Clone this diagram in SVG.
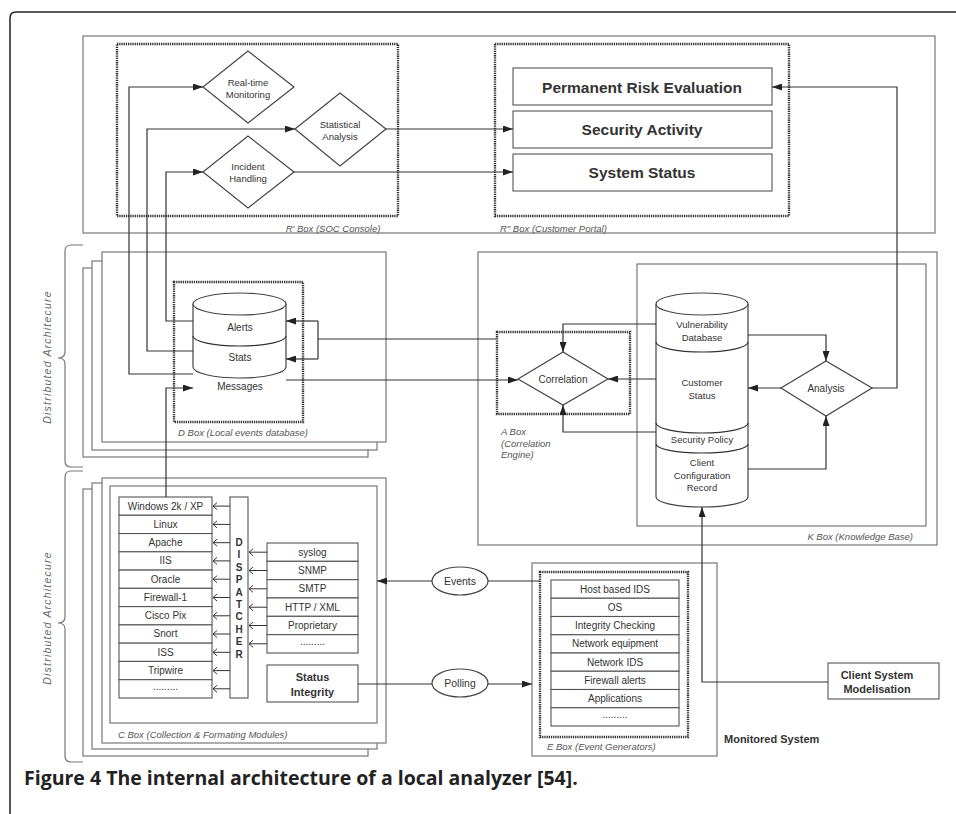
<svg xmlns="http://www.w3.org/2000/svg" width="956" height="814" viewBox="0 0 956 814">
  <defs>
    <marker id="arr" viewBox="0 0 10 7" refX="10" refY="3.5" markerWidth="10" markerHeight="7" markerUnits="userSpaceOnUse" orient="auto">
      <path d="M0,0 L10,3.5 L0,7 Z" fill="#222"/>
    </marker>
    <marker id="chev" viewBox="0 0 6 8" refX="1" refY="4" markerWidth="6" markerHeight="8" markerUnits="userSpaceOnUse" orient="auto">
      <path d="M5,0.5 L1,4 L5,7.5" fill="none" stroke="#333" stroke-width="1"/>
    </marker>
  </defs>
  <style>
    .frame { fill: none; stroke: #222; stroke-width: 1.5; }
    .box { fill: none; stroke: #777; stroke-width: 1.2; }
    .wbox { fill: #fff; stroke: #777; stroke-width: 1.2; }
    .cell { fill: #fff; stroke: #555; stroke-width: 1.1; }
    .dot { fill: none; stroke: #333; stroke-width: 2.4; stroke-dasharray: 1.3 0.9; }
    .shape { fill: #fff; stroke: #444; stroke-width: 1.2; }
    .ln { fill: none; stroke: #333; stroke-width: 1.2; }
    .la { fill: none; stroke: #333; stroke-width: 1.2; marker-end: url(#arr); }
    .lc { fill: none; stroke: #333; stroke-width: 1; marker-start: url(#chev); }
    .t { font-family: "Liberation Sans", Arial, sans-serif; font-size: 9.5px; fill: #333; text-anchor: middle; }
    .s { font-family: "Liberation Sans", Arial, sans-serif; font-size: 10px; fill: #333; text-anchor: middle; }
    .b { font-family: "Liberation Sans", Arial, sans-serif; font-size: 11px; font-weight: bold; fill: #333; text-anchor: middle; }
    .disp { font-family: "Liberation Sans", Arial, sans-serif; font-size: 10px; font-weight: bold; fill: #333; text-anchor: middle; }
    .ell { font-family: "Liberation Sans", Arial, sans-serif; font-size: 10.5px; fill: #333; text-anchor: middle; }
    .big { font-family: "Liberation Sans", Arial, sans-serif; font-size: 15.5px; font-weight: bold; fill: #333; text-anchor: middle; }
    .lbl { font-family: "Liberation Sans", Arial, sans-serif; font-size: 9.5px; font-style: italic; fill: #555; }
    .da { font-family: "Liberation Sans", Arial, sans-serif; font-size: 10.5px; font-style: italic; fill: #666; letter-spacing: 1.2px; text-anchor: middle; }
    .cap { font-family: "Open Sans", "Noto Sans", sans-serif; font-size: 19.5px; font-weight: bold; fill: #222; }
  </style>

  <rect width="956" height="814" fill="#fff"/>
  <path class="frame" d="M10,814 V18 Q10,12 16,12 H956"/>

  <!-- brackets for the distributed tiers -->
  <g id="braces">
    <path class="box" d="M83,245 H71 Q65,245 65,251 V352 Q65,358 58,358 Q65,358 65,364 V461 Q65,467 71,467 H83"/>
    <path class="box" d="M83,471 H71 Q65,471 65,477 V617 Q65,623 58,623 Q65,623 65,629 V756 Q65,762 71,762 H83"/>
    <text class="da" transform="translate(50.5,357) rotate(-90)">Distributed  Architecure</text>
    <text class="da" transform="translate(50.5,618) rotate(-90)">Distributed  Architecure</text>
  </g>

  <!-- R box: SOC console and customer portal -->
  <g id="r-box">
    <rect class="box" x="83" y="36" width="852" height="197"/>
  </g>
  <g id="r1-box">
    <rect class="dot" x="117" y="44" width="281" height="172"/>
    <text class="lbl" x="333" y="232" text-anchor="middle">R' Box (SOC Console)</text>
  </g>
  <g id="realtime">
    <polygon class="shape" points="203,87 248,51 294,87 248,123"/>
    <text class="t" x="248" y="85.5">Real-time</text>
    <text class="t" x="248" y="97.5">Monitoring</text>
  </g>
  <g id="statistical">
    <polygon class="shape" points="295,129 340,93 386,129 340,166"/>
    <text class="t" x="340" y="127.5">Statistical</text>
    <text class="t" x="340" y="139.5">Analysis</text>
  </g>
  <g id="incident">
    <polygon class="shape" points="203,172 248,136 294,172 248,208"/>
    <text class="t" x="248" y="169.5">Incident</text>
    <text class="t" x="248" y="181.5">Handling</text>
  </g>
  <g id="r2-box">
    <rect class="dot" x="495" y="44" width="294" height="172"/>
    <text class="lbl" x="500" y="232">R" Box (Customer Portal)</text>
  </g>
  <g id="risk">
    <rect class="cell" x="513" y="68" width="259" height="37"/>
    <text class="big" x="642" y="92.5">Permanent Risk Evaluation</text>
  </g>
  <g id="activity">
    <rect class="cell" x="513" y="111" width="259" height="37"/>
    <text class="big" x="642" y="135">Security Activity</text>
  </g>
  <g id="status">
    <rect class="cell" x="513" y="154" width="259" height="37"/>
    <text class="big" x="642" y="178">System Status</text>
  </g>

  <!-- D box: local events database (stacked instances) -->
  <g id="d-box">
    <rect class="wbox" x="83" y="268" width="285" height="189"/>
    <rect class="wbox" x="92" y="261" width="285" height="189"/>
    <rect class="wbox" x="102" y="252" width="284" height="190"/>
    <rect class="dot" x="174" y="282" width="129" height="140"/>
    <text class="lbl" x="243" y="436" text-anchor="middle">D Box (Local events database)</text>
  </g>
  <g id="d-db">
    <path class="shape" d="M193,304 V367 A46.5,11 0 0 0 286,367 V304"/>
    <ellipse class="shape" cx="239.5" cy="304" rx="46.5" ry="11"/>
    <path class="ln" d="M193,336 A46.5,10 0 0 0 286,336"/>
    <text class="s" x="240" y="330.5">Alerts</text>
    <text class="s" x="240" y="360.5">Stats</text>
    <text class="s" x="240" y="389.5">Messages</text>
  </g>

  <!-- K box: knowledge base -->
  <g id="k-box">
    <rect class="box" x="478" y="252" width="459" height="293"/>
    <rect class="box" x="637" y="264" width="289" height="262"/>
    <text class="lbl" x="913" y="540" text-anchor="end">K Box (Knowledge Base)</text>
  </g>
  <g id="a-box">
    <rect class="dot" x="497" y="332" width="133" height="82"/>
    <text class="lbl" x="501" y="435">A Box</text>
    <text class="lbl" x="501" y="447">(Correlation</text>
    <text class="lbl" x="501" y="458">Engine)</text>
  </g>
  <g id="correlation">
    <polygon class="shape" points="518,379 563,352 608,379 563,405"/>
    <text class="s" x="563" y="382.5">Correlation</text>
  </g>
  <g id="k-db">
    <path class="shape" d="M656,304 V497 A46,10 0 0 0 748,497 V304"/>
    <ellipse class="shape" cx="702" cy="304" rx="46" ry="11"/>
    <path class="ln" d="M656,342 A46,10 0 0 0 748,342"/>
    <path class="ln" d="M656,423 A46,10 0 0 0 748,423"/>
    <path class="ln" d="M656,444 A46,9 0 0 0 748,444"/>
    <text class="t" x="702" y="327.5">Vulnerability</text>
    <text class="t" x="702" y="340.5">Database</text>
    <text class="t" x="702" y="385.5">Customer</text>
    <text class="t" x="702" y="398.5">Status</text>
    <text class="t" x="702" y="443">Security Policy</text>
    <text class="t" x="702" y="466">Client</text>
    <text class="t" x="702" y="478.5">Configuration</text>
    <text class="t" x="702" y="490.5">Record</text>
  </g>
  <g id="analysis">
    <polygon class="shape" points="781,388 826,361 872,388 826,416"/>
    <text class="s" x="826" y="391.5">Analysis</text>
  </g>

  <!-- C box: collection and formatting modules (stacked instances) -->
  <g id="c-box">
    <rect class="wbox" x="83" y="489" width="285" height="267"/>
    <rect class="wbox" x="92" y="483" width="285" height="266"/>
    <rect class="wbox" x="102" y="478" width="284" height="265"/>
    <rect class="box" x="110" y="486" width="267" height="237"/>
    <text class="lbl" x="118" y="738">C Box (Collection &amp; Formating Modules)</text>
  </g>
  <g id="parsers">
    <rect class="cell" x="119" y="497" width="93" height="18.27"/>
    <rect class="cell" x="119" y="515.27" width="93" height="18.27"/>
    <rect class="cell" x="119" y="533.54" width="93" height="18.27"/>
    <rect class="cell" x="119" y="551.81" width="93" height="18.27"/>
    <rect class="cell" x="119" y="570.08" width="93" height="18.27"/>
    <rect class="cell" x="119" y="588.35" width="93" height="18.27"/>
    <rect class="cell" x="119" y="606.62" width="93" height="18.27"/>
    <rect class="cell" x="119" y="624.89" width="93" height="18.27"/>
    <rect class="cell" x="119" y="643.16" width="93" height="18.27"/>
    <rect class="cell" x="119" y="661.43" width="93" height="18.27"/>
    <rect class="cell" x="119" y="679.7" width="93" height="18.3"/>
    <text class="s" x="165.5" y="509.5">Windows 2k / XP</text>
    <text class="s" x="165.5" y="527.8">Linux</text>
    <text class="s" x="165.5" y="546">Apache</text>
    <text class="s" x="165.5" y="564.3">IIS</text>
    <text class="s" x="165.5" y="582.6">Oracle</text>
    <text class="s" x="165.5" y="600.9">Firewall-1</text>
    <text class="s" x="165.5" y="619.2">Cisco Pix</text>
    <text class="s" x="165.5" y="637.4">Snort</text>
    <text class="s" x="165.5" y="655.7">ISS</text>
    <text class="s" x="165.5" y="674">Tripwire</text>
    <text class="s" x="165.5" y="690">.........</text>
  </g>
  <g id="dispatcher">
    <rect class="cell" x="230" y="497" width="18" height="201"/>
    <text class="disp" x="239" y="546">D</text>
    <text class="disp" x="239" y="558.4">I</text>
    <text class="disp" x="239" y="570.8">S</text>
    <text class="disp" x="239" y="583.2">P</text>
    <text class="disp" x="239" y="595.6">A</text>
    <text class="disp" x="239" y="608">T</text>
    <text class="disp" x="239" y="620.4">C</text>
    <text class="disp" x="239" y="632.8">H</text>
    <text class="disp" x="239" y="645.2">E</text>
    <text class="disp" x="239" y="657.6">R</text>
  </g>
  <g id="inputs">
    <rect class="cell" x="267" y="543" width="91" height="18.33"/>
    <rect class="cell" x="267" y="561.33" width="91" height="18.33"/>
    <rect class="cell" x="267" y="579.66" width="91" height="18.33"/>
    <rect class="cell" x="267" y="597.99" width="91" height="18.33"/>
    <rect class="cell" x="267" y="616.32" width="91" height="18.33"/>
    <rect class="cell" x="267" y="634.65" width="91" height="18.35"/>
    <text class="s" x="312.5" y="555.7">syslog</text>
    <text class="s" x="312.5" y="574">SNMP</text>
    <text class="s" x="312.5" y="592.3">SMTP</text>
    <text class="s" x="312.5" y="610.7">HTTP / XML</text>
    <text class="s" x="312.5" y="629">Proprietary</text>
    <text class="s" x="312.5" y="645">.........</text>
  </g>
  <g id="status-integrity">
    <rect class="cell" x="267" y="665" width="91" height="37"/>
    <text class="b" x="312.5" y="681">Status</text>
    <text class="b" x="312.5" y="696">Integrity</text>
  </g>

  <g id="events">
    <ellipse class="shape" cx="460" cy="581" rx="28" ry="14"/>
    <text class="ell" x="460" y="585">Events</text>
  </g>
  <g id="polling">
    <ellipse class="shape" cx="460" cy="683" rx="28" ry="14"/>
    <text class="ell" x="460" y="687">Polling</text>
  </g>

  <!-- E box: event generators of the monitored system -->
  <g id="e-box">
    <rect class="box" x="532" y="563" width="185" height="193"/>
    <rect class="dot" x="540" y="572" width="148" height="165"/>
    <text class="lbl" x="547" y="750">E Box (Event Generators)</text>
  </g>
  <g id="generators">
    <rect class="cell" x="551" y="580" width="128" height="18.25"/>
    <rect class="cell" x="551" y="598.25" width="128" height="18.25"/>
    <rect class="cell" x="551" y="616.5" width="128" height="18.25"/>
    <rect class="cell" x="551" y="634.75" width="128" height="18.25"/>
    <rect class="cell" x="551" y="653" width="128" height="18.25"/>
    <rect class="cell" x="551" y="671.25" width="128" height="18.25"/>
    <rect class="cell" x="551" y="689.5" width="128" height="18.25"/>
    <rect class="cell" x="551" y="707.75" width="128" height="18.25"/>
    <text class="s" x="615" y="592.5">Host based IDS</text>
    <text class="s" x="615" y="610.7">OS</text>
    <text class="s" x="615" y="629">Integrity Checking</text>
    <text class="s" x="615" y="647.2">Network equipment</text>
    <text class="s" x="615" y="665.5">Network  IDS</text>
    <text class="s" x="615" y="683.7">Firewall alerts</text>
    <text class="s" x="615" y="702">Applications</text>
    <text class="s" x="615" y="718">.........</text>
  </g>
  <g id="monitored">
    <text class="b" x="724" y="743" style="text-anchor:start">Monitored System</text>
  </g>
  <g id="client-model">
    <rect class="cell" x="828" y="663" width="111" height="36"/>
    <text class="b" x="877" y="679">Client  System</text>
    <text class="b" x="877" y="693">Modelisation</text>
  </g>

  <!-- connectors -->
  <g id="connectors">
    <path class="la" d="M193,374 H129 V87 H203"/>
    <path class="la" d="M193,351 H147 V129 H295"/>
    <path class="la" d="M193,321 H166 V172 H203"/>
    <path class="la" d="M386,129 H513"/>
    <path class="la" d="M294,172 H513"/>
    <path class="la" d="M872,388 H897 V87 H772"/>
    <path class="ln" d="M496,339 H318 M318,321 V359"/>
    <path class="la" d="M318,321 H286"/>
    <path class="la" d="M318,359 H286"/>
    <path class="la" d="M286,380 H518"/>
    <path class="la" d="M166,497 V388 H193"/>
    <path class="la" d="M656,324 H563 V352"/>
    <path class="la" d="M656,379 H608"/>
    <path class="la" d="M656,432 H563 V405"/>
    <path class="la" d="M748,335 H826 V361"/>
    <path class="la" d="M781,388 H748"/>
    <path class="la" d="M748,469 H826 V416"/>
    <path class="la" d="M828,682 H702 V507"/>
    <path class="ln" d="M540,581 H488"/>
    <path class="la" d="M432,581 H377"/>
    <path class="ln" d="M358,684 H432"/>
    <path class="la" d="M488,684 H532"/>
    <!-- dispatcher to parsers -->
    <path class="lc" d="M213,506.1 H230"/>
    <path class="lc" d="M213,524.4 H230"/>
    <path class="lc" d="M213,542.7 H230"/>
    <path class="lc" d="M213,560.9 H230"/>
    <path class="lc" d="M213,579.2 H230"/>
    <path class="lc" d="M213,597.5 H230"/>
    <path class="lc" d="M213,615.8 H230"/>
    <path class="lc" d="M213,634 H230"/>
    <path class="lc" d="M213,652.3 H230"/>
    <path class="lc" d="M213,670.6 H230"/>
    <path class="lc" d="M213,688.8 H230"/>
    <!-- inputs to dispatcher -->
    <path class="lc" d="M249,552.2 H267"/>
    <path class="lc" d="M249,570.5 H267"/>
    <path class="lc" d="M249,588.8 H267"/>
    <path class="lc" d="M249,607.2 H267"/>
    <path class="lc" d="M249,625.5 H267"/>
    <path class="lc" d="M249,643.8 H267"/>
  </g>

  <text class="cap" x="24" y="785">Figure 4 The internal architecture of a local analyzer [54].</text>
</svg>
